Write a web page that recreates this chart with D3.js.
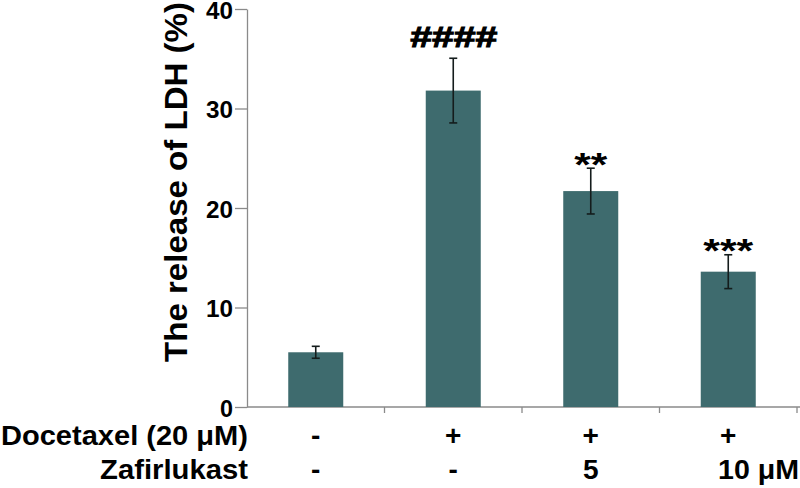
<!DOCTYPE html>
<html><head><meta charset="utf-8">
<script src="https://cdn.jsdelivr.net/npm/d3@7"></script>
<style>body{margin:0;background:#fff}svg{display:block}text{font-family:"Liberation Sans",Arial,sans-serif;font-weight:bold;fill:#000}</style>
</head><body><svg id="c" width="800" height="488"></svg>
<script>
const categories = ["ctrl","doc","doc+z5","doc+z10"];
const values = [5.5, 31.8, 21.7, 13.6];
const errors = [0.6, 3.25, 2.3, 1.7];
const marks = ["", "####", "**", "***"];
const docetaxelRow = ["-","+","+","+"];
const zafirRow = ["-","-","5","10 μM"];
const yTicks = [0,10,20,30,40];

const svg = d3.select("#c");
const plotL = 247, plotR = 797, plotT = 9, plotB = 407;
const x = d3.scaleBand().domain(categories).range([plotL,plotR]).paddingInner(0.6).paddingOuter(0.3);
const y = d3.scaleLinear().domain([0,40]).range([plotB,plotT]);
const axisColor = "#8a8a8a";

// y axis
const ya = svg.append("g").attr("transform",`translate(${plotL},0)`)
  .call(d3.axisLeft(y).tickValues(yTicks).tickSize(12).tickSizeOuter(0).tickPadding(2));
ya.select(".domain").attr("stroke",axisColor).attr("stroke-width",1.3);
ya.selectAll(".tick line").attr("stroke",axisColor).attr("stroke-width",1.3);
ya.selectAll(".tick text").style("font-size","23px").attr("dy","0.4em")
  .attr("textLength",d=>String(d).length>1?27:13).attr("lengthAdjust","spacingAndGlyphs");

// x axis line with boundary ticks
svg.append("line").attr("x1",plotL).attr("x2",800).attr("y1",plotB).attr("y2",plotB)
  .attr("stroke",axisColor).attr("stroke-width",1.3);
const step = x.step();
const bounds = d3.range(categories.length+1).map(i => x(categories[0]) - x.paddingOuter()*step + i*step);
svg.selectAll(".xt").data(bounds.slice(1)).enter().append("line")
  .attr("x1",d=>d).attr("x2",d=>d).attr("y1",plotB).attr("y2",plotB+6)
  .attr("stroke",axisColor).attr("stroke-width",1.3);

// bars
svg.selectAll(".bar").data(values).enter().append("rect")
  .attr("x",(d,i)=>x(categories[i])).attr("width",x.bandwidth())
  .attr("y",d=>y(d)).attr("height",d=>plotB-y(d)).attr("fill","#3e6b6e");

// error bars
const cx = i => x(categories[i]) + x.bandwidth()/2;
const eb = svg.selectAll(".eb").data(values).enter().append("g").attr("stroke","#141c1c").attr("stroke-width",1.6);
eb.append("line").attr("x1",(d,i)=>cx(i)).attr("x2",(d,i)=>cx(i))
  .attr("y1",(d,i)=>y(d+errors[i])).attr("y2",(d,i)=>y(d-errors[i]));
eb.append("line").attr("x1",(d,i)=>cx(i)-4).attr("x2",(d,i)=>cx(i)+4)
  .attr("y1",(d,i)=>y(d+errors[i])).attr("y2",(d,i)=>y(d+errors[i]));
eb.append("line").attr("x1",(d,i)=>cx(i)-4).attr("x2",(d,i)=>cx(i)+4)
  .attr("y1",(d,i)=>y(d-errors[i])).attr("y2",(d,i)=>y(d-errors[i]));

// significance marks
const markW = [0, 87, 33, 50];
marks.forEach((d,i) => {
  if (!d) return;
  const t = svg.append("text").attr("x",cx(i)).attr("text-anchor","middle")
    .attr("textLength",markW[i]).attr("lengthAdjust","spacingAndGlyphs").text(d);
  if (d.startsWith("#")) {
    t.attr("y", y(values[i]+errors[i]) - 11).style("font-size","29px").style("font-style","italic")
     .attr("stroke","#000").attr("stroke-width",1);
  } else {
    t.attr("y", y(values[i]+errors[i]) + 7.5).style("font-size","34px");
  }
});

// y axis title
svg.append("text").attr("transform","translate(187,182) rotate(-90)").attr("text-anchor","middle")
  .style("font-size","32px").attr("textLength",360).attr("lengthAdjust","spacingAndGlyphs")
  .text("The release of LDH (%)");

// row labels
svg.append("text").attr("x",248).attr("y",445).attr("text-anchor","end").style("font-size","28px")
  .attr("textLength",247).attr("lengthAdjust","spacingAndGlyphs").text("Docetaxel (20 μM)");
svg.append("text").attr("x",248).attr("y",479).attr("text-anchor","end").style("font-size","28px")
  .attr("textLength",148).attr("lengthAdjust","spacingAndGlyphs").text("Zafirlukast");

docetaxelRow.forEach((d,i) => {
  svg.append("text").attr("x",cx(i)).attr("y",445).attr("text-anchor","middle").style("font-size","28px").text(d);
});
zafirRow.forEach((d,i) => {
  const t = svg.append("text").attr("y",479).style("font-size","28px").text(d);
  if (d.length > 2) t.attr("x",718).attr("text-anchor","start").attr("textLength",81).attr("lengthAdjust","spacingAndGlyphs");
  else t.attr("x",cx(i)).attr("text-anchor","middle");
});
</script></body></html>
